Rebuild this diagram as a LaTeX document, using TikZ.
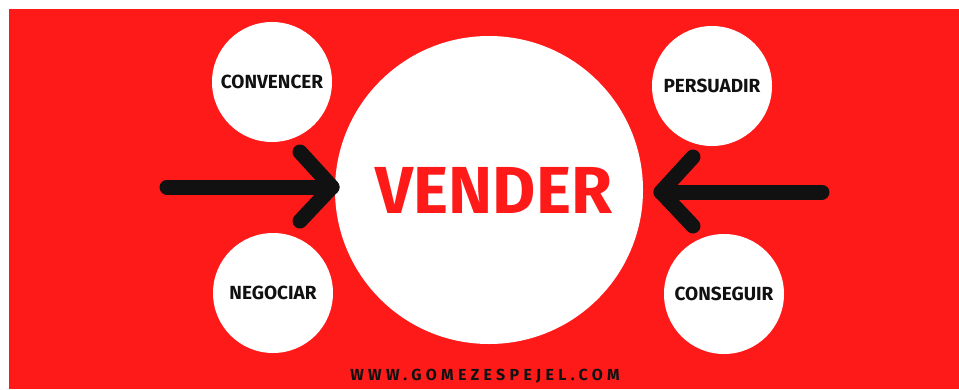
\documentclass[tikz,border=0pt]{standalone}
\usepackage{fontspec}
\setmainfont{Fira Sans}
\definecolor{bgred}{RGB}{255,26,26}
\definecolor{ink}{RGB}{17,17,17}
\begin{document}
\begin{tikzpicture}[x=1pt,y=-1pt,
  bubble/.style={circle,fill=white,inner sep=0pt},
  smalllabel/.style={font=\fontsize{19}{21}\selectfont\bfseries,text=ink},
  arrowline/.style={draw=ink,line width=15pt,line cap=round,line join=round}]
\useasboundingbox (0,0) rectangle (959,389);
\fill[white] (0,0) rectangle (959,389);
\fill[bgred] (9,9) rectangle (959,389);
% main circle
\node[bubble,minimum size=308pt] (vender) at (489,190) {};
\node[font=\fontsize{66.5}{70}\selectfont\bfseries,text=bgred] (vtext) at (494,190) {VENDER};
% small circles
\node[bubble,minimum size=120pt,smalllabel] (convencer) at (272,82) {CONVENCER};
\node[bubble,minimum size=120pt,smalllabel] (persuadir) at (712,86) {PERSUADIR};
\node[bubble,minimum size=120pt,smalllabel] (negociar) at (273,293) {NEGOCIAR};
\node[bubble,minimum size=120pt,smalllabel] (conseguir) at (724,294) {CONSEGUIR};
% left arrow
\coordinate (lstart) at (167,187);
\coordinate (ltip) at (332,187);
\coordinate (lup) at (300,152);
\coordinate (ldown) at (300,221);
\draw[arrowline] (lstart) -- (ltip);
\draw[arrowline] (lup) -- (ltip) -- (ldown);
% right arrow
\coordinate (rstart) at (822,192);
\coordinate (rtip) at (661,192);
\coordinate (rup) at (693,157);
\coordinate (rdown) at (693,226);
\draw[arrowline] (rstart) -- (rtip);
\draw[arrowline] (rup) -- (rtip) -- (rdown);
% footer
\node[font=\fontsize{16}{18}\selectfont\bfseries\addfontfeatures{LetterSpace=27},text=ink] (web) at (485,376) {WWW.GOMEZESPEJEL.COM};
\end{tikzpicture}
\end{document}
